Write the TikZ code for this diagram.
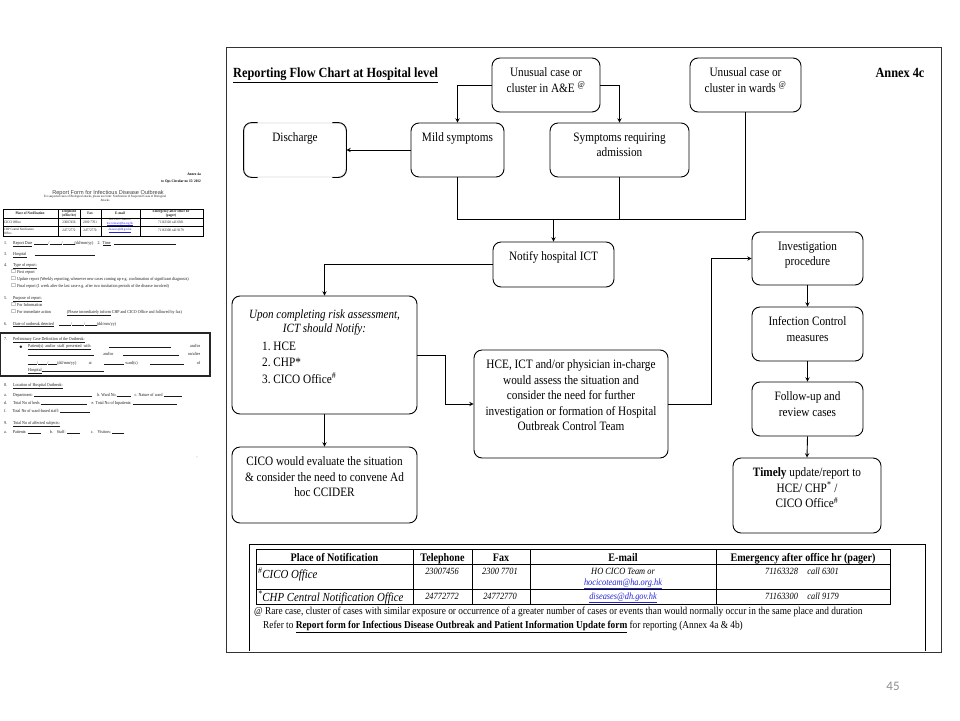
\documentclass[tikz,border=0pt]{standalone}
\usepackage{amssymb}
\usepackage{fontspec}
\setmainfont{Liberation Serif}[FakeStretch=0.88]
\newfontfamily\formsans{Liberation Sans}
\newfontfamily\pagesans{Carlito}

\definecolor{linkblue}{RGB}{35,35,215}
\definecolor{pagegray}{RGB}{140,140,140}

\newcommand{\boxfont}{\fontsize{12.8}{15.5}\selectfont}
\newcommand{\uponfont}{\fontsize{12.6}{14}\selectfont\itshape}
\newcommand{\titlefont}{\fontsize{14}{16}\selectfont\bfseries}
\newcommand{\headfont}{\fontsize{11.5}{13}\selectfont\bfseries}
\newcommand{\placefont}{\fontsize{12.3}{14}\selectfont\itshape}
\newcommand{\cellfont}{\fontsize{9.5}{10}\selectfont\itshape}
\newcommand{\notefont}{\fontsize{10.6}{12}\selectfont}
\newcommand{\formfont}{\fontsize{4.5}{5}\selectfont}
\newcommand{\formcellfont}{\fontsize{3.7}{4.3}\selectfont}
\newcommand{\formbold}{\fontsize{3.8}{4.4}\selectfont\bfseries}
\newcommand{\formhead}{\formsans\fontsize{5.6}{6.5}\selectfont}
\newcommand{\tline}[1]{\rule[-0.5pt]{#1pt}{0.35pt}}

\begin{document}
\begin{tikzpicture}[x=1pt, y=-1pt, >=stealth,
    flow box/.style={draw, rounded corners=8pt, line width=0.9pt, inner sep=0pt},
    box text/.style={anchor=north, align=center, inner sep=0pt, yshift=-10pt, font=\boxfont},
    link/.style={->, line width=0.9pt},
    grid line/.style={line width=0.9pt},
    head cell/.style={anchor=base, inner sep=0pt, font=\headfont},
    num cell/.style={anchor=base, inner sep=0pt, font=\cellfont},
    form text/.style={anchor=base west, inner sep=0pt, font=\formfont, text=black!90},
    form cell/.style={inner sep=0pt, align=center, font=\formcellfont, text=black!90}]

  \useasboundingbox (0,0) rectangle (960,720);

  % Report form (small page on the left)
  \node[anchor=base east, inner sep=0pt, font=\formbold] (fannex) at (201,175) {Annex 4a};
  \node[anchor=base east, inner sep=0pt, font=\formbold] (fcirc) at (201,182) {to Ops Circular no 15/ 2012};
  \node[anchor=base, inner sep=0pt, font=\formhead, text=black!75] (fhead) at (108,194) {Report Form for Infectious Disease Outbreak};
  \node[form cell, anchor=base, font=\fontsize{3.3}{4}\selectfont] (fnote) at (105,201) {For suspected cases of Biological attacks, please use form: Notification of Suspected Cases of Biological\\Attacks};

  \draw[line width=0.35pt] (3,209) rectangle (203,236) (3,218) -- (203,218) (3,226) -- (203,226);
  \foreach \x in {58,80,101,140}
    \draw[line width=0.35pt] (\x,209) -- (\x,236);
  \node[form cell, font=\formbold] (fh1) at (30,213.5) {Place of Notification};
  \node[form cell, font=\formbold] (fh2) at (69,213.5) {Telephone\\(office hr)};
  \node[form cell, font=\formbold] (fh3) at (90,213.5) {Fax};
  \node[form cell, font=\formbold] (fh4) at (120,213.5) {E-mail};
  \node[form cell, font=\formbold] (fh5) at (171,213.5) {Emergency after office hr\\(pager)};
  \node[form cell, anchor=west] (fa1) at (4,222) {CICO Office};
  \node[form cell] (fa2) at (69,222) {23007456};
  \node[form cell] (fa3) at (90,222) {2300 7701};
  \node[form cell, font=\fontsize{3.2}{3.6}\selectfont] (fa4) at (120,222) {HO CICO Team or\\{\color{linkblue}\underline{hocicoteam@ha.org.hk}}};
  \node[form cell] (fa5) at (171,222) {71163328 call 6301};
  \node[form cell, anchor=west, align=left, font=\fontsize{3.3}{3.8}\selectfont] (fb1) at (4,231) {CHP Central Notification\\Office};
  \node[form cell] (fb2) at (69,230) {24772772};
  \node[form cell] (fb3) at (90,230) {24772770};
  \node[form cell, font=\fontsize{3.2}{3.6}\selectfont] (fb4) at (120,230) {{\color{linkblue}\underline{diseases@dh.gov.hk}}};
  \node[form cell] (fb5) at (171,230) {71163300 call 9179};

  \node[form text] (f1) at (4,244) {1.\hspace{6pt}\underline{Report Date}\hspace{2pt}\tline{14}/\tline{12}/\tline{12}(dd/mm/yy)\hspace{4pt}2.\hspace{2pt}\underline{Time}\hspace{3pt}\tline{62}};
  \node[form text] (f3) at (4,255) {3.\hspace{6pt}\underline{Hospital}\hspace{8pt}\tline{60}};
  \node[form text] (f4) at (4,266) {4.\hspace{6pt}\underline{Type of report:}};
  \node[form text] (f4a) at (11,273) {$\square$ First report};
  \node[form text] (f4b) at (11,280) {$\square$ Update report (Weekly reporting, whenever new cases coming up e.g. confirmation of significant diagnosis)};
  \node[form text] (f4c) at (11,287) {$\square$ Final report (1 week after the last case e.g. after two incubation periods of the disease involved)};
  \node[form text] (f5) at (4,299) {5.\hspace{6pt}\underline{Purpose of report:}};
  \node[form text] (f5a) at (11,306) {$\square$ For Information};
  \node[form text] (f5b) at (11,313) {$\square$ For immediate action\hspace{16pt}\underline{(Please immediately inform} CHP and CICO Office and followed by fax)};
  \node[form text] (f6) at (4,325) {6.\hspace{6pt}\underline{Date of outbreak detected}\hspace{5pt}\tline{12}/\tline{12}/\tline{12}(dd/mm/yy)};

  \draw[line width=1.2pt, black!85] (0.8,333) rectangle (210,376);
  \node[form text] (f7) at (4,340) {7.\hspace{6pt}\underline{Preliminary Case Definition of the Outbreak:}};
  \node[form text, font=\fontsize{5.5}{5.5}\selectfont] (f7dot) at (19,348) {$\bullet$};
  \node[form text] (f7a) at (28,347) {\makebox[172pt][l]{\underline{Patient(s)\ \ and/or\ \ staff\ \ presented\ \ with}\hfill\tline{62}\hfill and/or}};
  \node[form text] (f7b) at (28,355) {\makebox[172pt][l]{\tline{66}\hfill and/or\hfill\tline{56}\hfill on/after}};
  \node[form text] (f7c) at (28,364) {\makebox[172pt][l]{\tline{9}/\tline{9}/\tline{9}(dd/mm/yy)\hfill at\hfill\tline{20} ward(s)\hfill\tline{34}\hfill of}};
  \node[form text] (f7d) at (28,371) {\underline{Hospital}\tline{62}};

  \node[form text] (f8) at (4,386) {8.\hspace{6pt}\underline{Location of Hospital Outbreak:}};
  \node[form text] (f8a) at (4,396) {a.\hspace{6pt}Department: \tline{58}\hspace{5pt}b. Ward No.\tline{14}\hspace{4pt}c. Nature of ward \tline{18}};
  \node[form text] (f8b) at (4,404) {d.\hspace{6pt}Total No of beds \tline{46}\hspace{5pt}e. Total No of Inpatients: \tline{44}};
  \node[form text] (f8c) at (4,412) {f.\hspace{6pt}Total No of ward-based staff: \tline{30}};
  \node[form text] (f9) at (4,424) {9.\hspace{6pt}\underline{Total No of affected subjects:}};
  \node[form text] (f9a) at (4,433) {a.\hspace{6pt}Patients: \tline{13}\hspace{9pt}b.\hspace{4pt}Staff: \tline{13}\hspace{11pt}c.\hspace{4pt}Visitors: \tline{12}};
  \node[form text, text=black!50] (fpage) at (196,458) {--};

  % Flow chart frame and headings
  \draw[line width=1pt, black!80] (226,47) rectangle (941,652);
  \node[anchor=base west, inner sep=0pt, font=\titlefont] (title) at (233,77) {\underline{Reporting Flow Chart at Hospital level}};
  \node[anchor=base, inner sep=0pt, font=\titlefont] (annex) at (900,77) {Annex 4c};

  % Boxes
  \node[flow box, minimum width=108, minimum height=54, label={[box text]north:Unusual case or\\cluster in A\&E \textsuperscript{@}}] (ae) at (546,85) {};
  \node[flow box, minimum width=111, minimum height=54, label={[box text]north:Unusual case or\\cluster in wards \textsuperscript{@}}] (wards) at (745.5,85) {};
  \node[flow box, draw=black!15, minimum width=102, minimum height=54, label={[box text]north:Discharge}] (discharge) at (295,150) {};
  \node[flow box, minimum width=93, minimum height=54, label={[box text]north:Mild symptoms}] (mild) at (457.5,150) {};
  \node[flow box, minimum width=139, minimum height=54, label={[box text]north:Symptoms requiring\\admission}] (admit) at (619.5,150) {};
  \node[flow box, minimum width=121, minimum height=45, label={[box text]north:Notify hospital ICT}] (notify) at (553.5,264.5) {};
  \node[flow box, minimum width=185, minimum height=118, label={[anchor=north, align=center, inner sep=0pt, yshift=-14pt, font=\uponfont]north:Upon completing risk assessment,\\ICT should Notify:}] (upon) at (324.5,355) {};
  \node[anchor=north west, align=left, inner sep=0pt, font=\fontsize{12.8}{16.5}\selectfont] (uponlist) at (262,341.5) {1.\ HCE\\2.\ CHP*\\3.\ CICO Office\textsuperscript{\#}};
  \node[flow box, minimum width=194, minimum height=108, label={[box text]north:HCE, ICT and/or physician in-charge\\would assess the situation and\\consider the need for further\\investigation or formation of Hospital\\Outbreak Control Team}] (hce) at (571,404) {};
  \node[flow box, minimum width=185, minimum height=76, label={[box text]north:CICO would evaluate the situation\\\& consider the need to convene Ad\\hoc CCIDER}] (cico) at (324.5,485) {};
  \node[flow box, minimum width=111, minimum height=53, label={[box text]north:Investigation\\procedure}] (invest) at (807.5,258.5) {};
  \node[flow box, minimum width=111, minimum height=54, label={[box text]north:Infection Control\\measures}] (infect) at (807.5,334) {};
  \node[flow box, minimum width=111, minimum height=54, label={[box text]north:Follow-up and\\review cases}] (follow) at (807.5,409) {};
  \node[flow box, minimum width=148, minimum height=75, label={[box text]north:\textbf{Timely} update/report to\\HCE/ CHP\textsuperscript{*} /\\CICO Office\textsuperscript{\#}}] (timely) at (807,495.5) {};

  % Discharge box shows only its sides
  \draw[line width=0.9pt, rounded corners=8pt] ([xshift=14pt]discharge.north west) -- (discharge.north west) -- (discharge.south west) -- ([xshift=14pt]discharge.south west);
  \draw[line width=0.9pt, rounded corners=8pt] ([xshift=-14pt]discharge.north east) -- (discharge.north east) -- (discharge.south east) -- ([xshift=-14pt]discharge.south east);

  % Connectors
  \coordinate (join) at (553.5,219);
  \draw[link] (ae.west) -| (mild.north);
  \draw[link] (ae.east) -| (admit.north);
  \draw[link] (mild.west) -- (discharge.east);
  \draw[grid line] (mild.south) -- (mild.south |- join) -- (wards.south |- join) -- (wards.south);
  \draw[grid line] (admit.south) -- (admit.south |- join);
  \draw[link] (join) -- (notify.north);
  \draw[link] (notify.west) -| (upon.north);
  \draw[link] (upon.east) -- ++(28,0) |- (hce.west);
  \draw[link] (upon.south) -- (cico.north);
  \draw[link] (hce.east) -- ++(43,0) |- (invest.west);
  \draw[link] (invest.south) -- (infect.north);
  \draw[link] (infect.south) -- (follow.north);
  \draw[link] (follow.south) -- (timely.north);

  % Notification table
  \draw[grid line] (249,651) -- (249,544) -- (925,544) -- (925,651);
  \draw[grid line] (256,549) rectangle (890,604) (256,564) -- (890,564) (256,589) -- (890,589);
  \foreach \x in {413,472,530,716}
    \draw[grid line] (\x,549) -- (\x,604);
  \node[head cell] (th1) at (334.5,561) {Place of Notification};
  \node[head cell] (th2) at (442.5,561) {Telephone};
  \node[head cell] (th3) at (501,561) {Fax};
  \node[head cell] (th4) at (623,561) {E-mail};
  \node[head cell] (th5) at (803,561) {Emergency after office hr (pager)};
  \node[anchor=base west, inner sep=0pt, font=\placefont] (ta1) at (258,578) {\textsuperscript{\#}CICO Office};
  \node[num cell] (ta2) at (442,574.5) {23007456};
  \node[num cell] (ta3) at (500,574.5) {2300 7701};
  \node[num cell] (ta4) at (623,574.5) {HO CICO Team or};
  \node[num cell] (ta4b) at (623,585) {{\color{linkblue}\underline{hocicoteam@ha.org.hk}}};
  \node[num cell] (ta5) at (802,574.5) {71163328\quad call 6301};
  \node[anchor=base west, inner sep=0pt, font=\placefont] (tb1) at (258,601) {\textsuperscript{*}CHP Central Notification Office};
  \node[num cell] (tb2) at (442,599) {24772772};
  \node[num cell] (tb3) at (500,599) {24772770};
  \node[num cell] (tb4) at (623,599) {{\color{linkblue}\underline{diseases@dh.gov.hk}}};
  \node[num cell] (tb5) at (802,599) {71163300\quad call 9179};
  \node[anchor=base west, inner sep=0pt, font=\notefont] (rare) at (254,614.5) {@ Rare case, cluster of cases with similar exposure or occurrence of a greater number of cases or events than would normally occur in the same place and duration};
  \node[anchor=base west, inner sep=0pt, font=\notefont] (refer) at (263,628) {Refer to \textbf{\underline{Report form for Infectious Disease Outbreak and Patient Information Update form}} for reporting (Annex 4a \& 4b)};

  % Slide number
  \node[inner sep=0pt, font=\pagesans\fontsize{13}{15}\selectfont, text=pagegray] (pagenum) at (893,686) {45};
\end{tikzpicture}
\end{document}
